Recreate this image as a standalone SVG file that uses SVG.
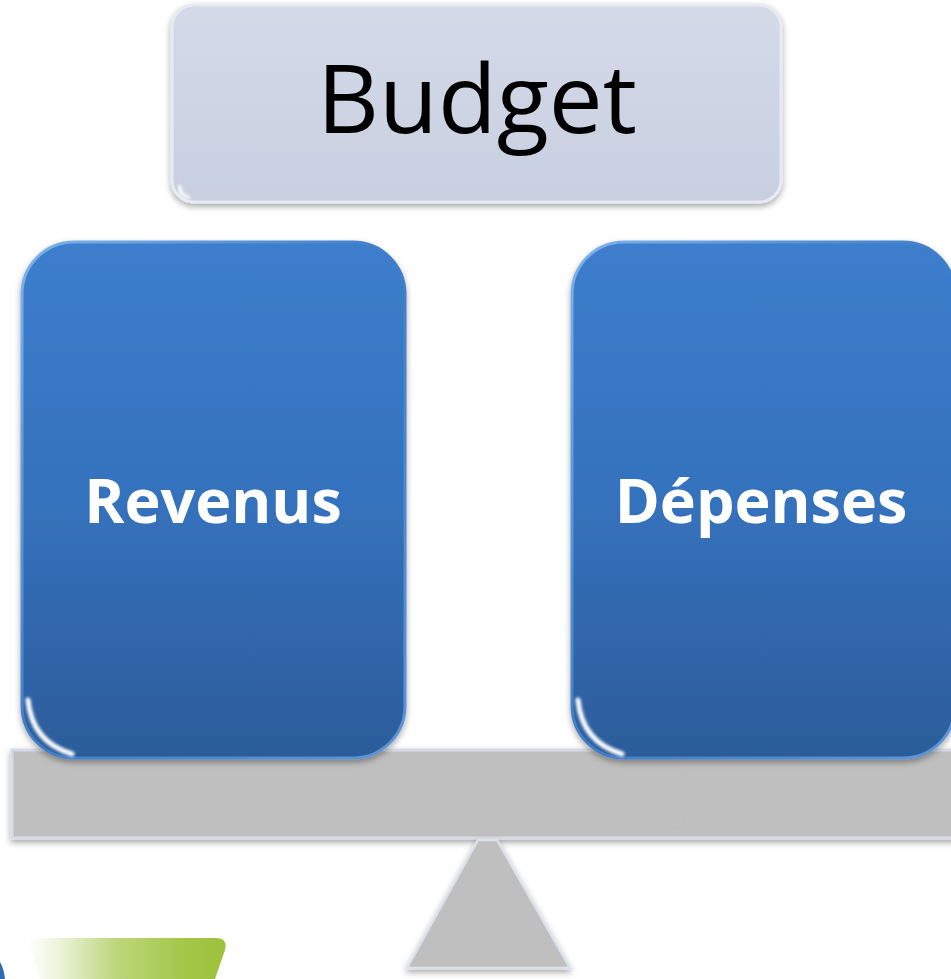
<svg xmlns="http://www.w3.org/2000/svg" width="951" height="979" viewBox="0 0 951 979">
  <defs>
    <style>
      .lbl-white { font-family: "Open Sans", "Liberation Sans", sans-serif; font-weight: 700; font-size: 61px; fill: #ffffff; text-anchor: middle; }
      .lbl-dark { font-family: "Open Sans", "Liberation Sans", sans-serif; font-weight: 400; font-size: 96px; fill: #000000; text-anchor: middle; }
      .blue-box { fill: url(#blueGrad); stroke: url(#blueEdge); stroke-width: 3; filter: url(#shadow); }
      .gray { fill: #bfbfbf; }
      .hl { fill: none; stroke: #ffffff; stroke-width: 5; stroke-linecap: round; filter: url(#soft); }
      .hl-top { fill: none; stroke: #8fc0f0; stroke-width: 3; filter: url(#soft); opacity: 0.8; }
    </style>
    <linearGradient id="blueGrad" x1="0" y1="0" x2="0" y2="1">
      <stop offset="0" stop-color="#3c7ecd"/>
      <stop offset="0.5" stop-color="#3572bd"/>
      <stop offset="1" stop-color="#2c5c9a"/>
    </linearGradient>
    <linearGradient id="blueEdge" x1="0" y1="0" x2="1" y2="1">
      <stop offset="0" stop-color="#7fb2ea"/>
      <stop offset="0.5" stop-color="#3f7dc6"/>
      <stop offset="1" stop-color="#5f96d6"/>
    </linearGradient>
    <linearGradient id="budgetGrad" x1="0" y1="0" x2="0" y2="1">
      <stop offset="0" stop-color="#d4dae8"/>
      <stop offset="1" stop-color="#c8cfe0"/>
    </linearGradient>
    <linearGradient id="greenGrad" x1="0" y1="0" x2="1" y2="0">
      <stop offset="0" stop-color="#ffffff"/>
      <stop offset="0.15" stop-color="#eef4dd"/>
      <stop offset="0.45" stop-color="#bcd77c"/>
      <stop offset="0.8" stop-color="#a3c647"/>
      <stop offset="1" stop-color="#9dc23c"/>
    </linearGradient>
    <filter id="shadow" x="-10%" y="-10%" width="120%" height="125%">
      <feDropShadow dx="0" dy="3" stdDeviation="3" flood-color="#000000" flood-opacity="0.35"/>
    </filter>
    <filter id="soft" x="-20%" y="-20%" width="140%" height="140%">
      <feGaussianBlur stdDeviation="1.5"/>
    </filter>
  </defs>

  <rect x="0" y="0" width="951" height="979" fill="#ffffff"/>

  <g id="budget">
    <rect x="172" y="5" width="609" height="197" rx="22" fill="url(#budgetGrad)" stroke="#e6eaf2" stroke-width="3" filter="url(#shadow)"/>
    <path d="M180,185 Q178,195 190,198" fill="none" stroke="#ffffff" stroke-width="3" filter="url(#soft)"/>
    <text class="lbl-dark" x="477" y="133">Budget</text>
  </g>

  <g id="beam">
    <rect x="12" y="750" width="950" height="88" class="gray" stroke="#d6dbe5" stroke-width="3" filter="url(#shadow)"/>
    <rect x="402" y="765" width="281" height="63" rx="6" fill="none" stroke="#b6b6b6" stroke-width="1" opacity="0.35"/>
  </g>

  <g id="revenus">
    <rect x="22" y="242" width="383" height="516" rx="52" class="blue-box"/>
    <path class="hl" d="M28,700 Q32,742 72,754"/>
    <path class="hl-top" d="M75,245 L352,245"/>
    <text class="lbl-white" x="213" y="523">Revenus</text>
  </g>

  <g id="depenses">
    <rect x="572" y="242" width="383" height="516" rx="52" class="blue-box"/>
    <path class="hl" d="M578,700 Q582,742 622,754"/>
    <path class="hl-top" d="M625,245 L902,245"/>
    <text class="lbl-white" x="761" y="523">Dépenses</text>
  </g>

  <g id="fulcrum">
    <polygon points="478,840 497,840 570,968 407,968" class="gray" stroke="#dde1e9" stroke-width="2.5" filter="url(#shadow)"/>
  </g>

  <g id="green-shape">
    <path d="M27,938 L216,938 Q228,938 225,950 L215,979 L40,979 Z" fill="url(#greenGrad)"/>
    <path d="M0,962 Q4,969 5,979 L0,979 Z" fill="#2f6bb5"/>
  </g>
</svg>
